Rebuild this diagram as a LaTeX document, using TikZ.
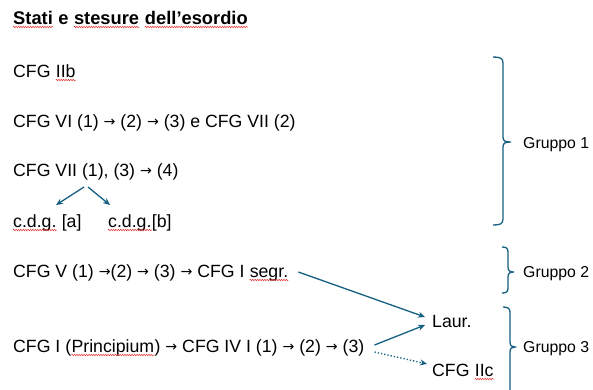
\documentclass[tikz,border=0pt]{standalone}
\usepackage{fontspec}
\setmainfont{Liberation Sans}
\newfontfamily\arrfont[Scale=0.8]{DejaVu Sans}
\usetikzlibrary{decorations.pathmorphing,arrows.meta}
\definecolor{acc}{RGB}{21,96,130}
\definecolor{sqred}{RGB}{225,45,45}
\newcommand\ra{\raisebox{0.3pt}{\arrfont →}}
\newcommand\wsp{\ \kern0pt}
\tikzset{
 txt/.style={inner sep=0pt, anchor=base west, font=\fontsize{17.7}{20}\selectfont},
 ttl/.style={txt, font=\fontsize{18.3}{21}\selectfont\bfseries},
 grp/.style={txt, font=\fontsize{15.8}{18}\selectfont},
 sq/.style={draw=sqred, line width=0.5pt, decorate, decoration={snake, amplitude=0.7pt, segment length=2.4pt}},
 conn/.style={draw=acc, line width=1.3pt, -{Stealth[length=7pt,width=6pt]}},
 dconn/.style={conn, dotted},
 brc/.style={draw=acc, line width=1.3pt},
}
\newcommand\squig[1]{\draw[sq] ([yshift=-3pt]#1.base west) -- ([yshift=-3pt]#1.base east);}
\begin{document}
\begin{tikzpicture}[x=1pt,y=-1pt]
\clip (0,0) rectangle (593,389);
\fill[white] (0,0) rectangle (593,389);
% title
\node[ttl] (t1) at (13,24) {Stati};
\node[ttl] (t2) at (t1.base east) {\ e\wsp};
\node[ttl] (t3) at (t2.base east) {stesure};
\node[ttl] (t4) at (t3.base east) {\wsp};
\node[ttl] (t5) at (t4.base east) {dell’esordio};
\squig{t1}\squig{t3}\squig{t5}
% group 1 lines
\node[txt] (a1) at (13,77) {CFG\wsp};
\node[txt] (a2) at (a1.base east) {IIb};
\squig{a2}
\node[txt] (b1) at (13,127) {CFG VI (1) \ra{} (2) \ra{} (3) e CFG VII (2)};
\node[txt] (c1) at (13,176) {CFG VII (1), (3) \ra{} (4)};
\node[txt] (d1) at (13,227) {c.d.g.};
\node[txt] (d2) at (d1.base east) {\ [a]};
\node[txt] (e1) at (108,227) {c.d.g.};
\node[txt] (e2) at (e1.base east) {[b]};
\squig{d1}\squig{e1}
\coordinate (fl) at (84,187);
\coordinate (fr) at (88,187);
\draw[conn] (fl) -- (56,205);
\draw[conn] (fr) -- (110,205);
% group 2
\node[txt] (f1) at (13,277) {CFG V (1) \ra(2) \ra{} (3) \ra{} CFG I\wsp};
\node[txt] (f2) at (f1.base east) {segr.};
\squig{f2}
% group 3
\node[txt] (g1) at (13,352) {CFG I (};
\node[txt] (g2) at (g1.base east) {Principium};
\node[txt] (g3) at (g2.base east) {) \ra{} CFG IV I (1) \ra{} (2) \ra{} (3)};
\squig{g2}
\node[txt] (h1) at (432,327) {Laur.};
\node[txt] (i1) at (432,376) {CFG\wsp};
\node[txt] (i2) at (i1.base east) {IIc};
\squig{i2}
\draw[conn] ([shift={(10pt,5pt)}]f2.base east) -- ([shift={(-7pt,4pt)}]h1.west);
\draw[conn] ([shift={(10pt,7pt)}]g3.base east) -- ([shift={(-7pt,-4pt)}]h1.west);
\draw[dconn] ([shift={(10pt,0pt)}]g3.base east) -- ([shift={(-5pt,6pt)}]i1.west);
% braces
\draw[brc] (493,57) .. controls (500,57) and (503,58) .. (503,63) -- (503,137)
  .. controls (503,141) and (505,142) .. (511,142)
  .. controls (505,142) and (503,143) .. (503,147) -- (503,219)
  .. controls (503,224) and (500,225) .. (493,225);
\node[grp] (gr1) at (523,148) {Gruppo 1};
\draw[brc] (502,247) .. controls (506,247) and (508,248) .. (508,252) -- (508,267)
  .. controls (508,271) and (510,272) .. (514,272)
  .. controls (510,272) and (508,273) .. (508,277) -- (508,288)
  .. controls (508,292) and (506,293) .. (502,293);
\node[grp] (gr2) at (523,277) {Gruppo 2};
\draw[brc] (503,307) .. controls (507,307) and (510,308) .. (510,312) -- (510,342)
  .. controls (510,346) and (512,347) .. (515,347)
  .. controls (512,347) and (510,348) .. (510,352) -- (510,400);
\node[grp] (gr3) at (523,352) {Gruppo 3};
\end{tikzpicture}
\end{document}
